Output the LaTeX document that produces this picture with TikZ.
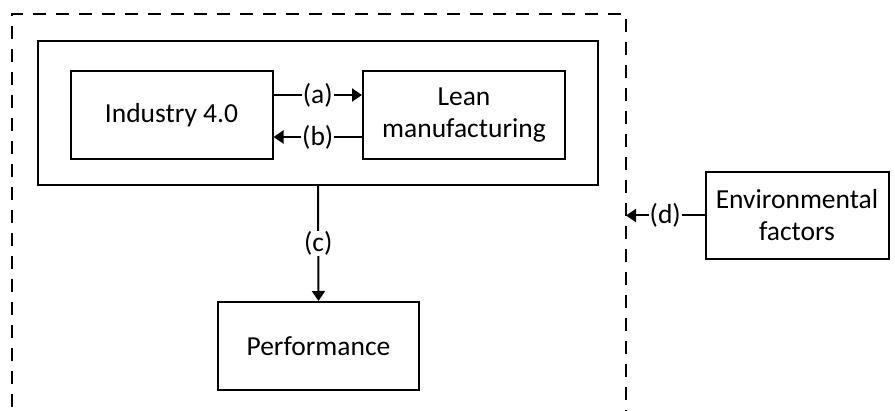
\documentclass[tikz,border=0pt]{standalone}
\usepackage{fontspec}
\setmainfont{Carlito}
\usetikzlibrary{arrows.meta}
\begin{document}
\begin{tikzpicture}[x=1pt,y=-1pt,
  box/.style={draw,line width=2pt,minimum width=#1,inner sep=0pt,align=center,font=\fontsize{27.5}{32}\selectfont},
  lbl/.style={fill=white,inner sep=1pt,font=\fontsize{27.5}{32}\selectfont},
  arr/.style={line width=2pt,-{Triangle[length=10pt,width=13pt]}}]
\useasboundingbox (0,0) rectangle (895,411);
\draw[line width=2pt,dash pattern=on 13pt off 10pt] (12,430) -- (12,14) -- (626,14) -- (626,430);
\node[box=560pt,minimum height=144pt] (inner) at (318,113) {};
\node[box=202pt,minimum height=88pt] (ind) at (171.5,115) {Industry 4.0};
\node[box=202pt,minimum height=88pt] (lean) at (464,115) {Lean\\manufacturing};
\node[box=201pt,minimum height=88pt] (perf) at (318.5,346) {Performance};
\node[box=183pt,minimum height=87pt] (env) at (797,215.5) {Environmental\\factors};
\coordinate (dl) at (626,215.5);
\draw[arr] ([yshift=20pt]ind.east) -- node[lbl]{(a)} ([yshift=20pt]lean.west);
\draw[arr] ([yshift=-22pt]lean.west) -- node[lbl]{(b)} ([yshift=-22pt]ind.east);
\draw[arr] (inner.south) -- node[lbl]{(c)} (perf.north);
\draw[arr] (env.west) -- node[lbl]{(d)} (dl);
\end{tikzpicture}
\end{document}
